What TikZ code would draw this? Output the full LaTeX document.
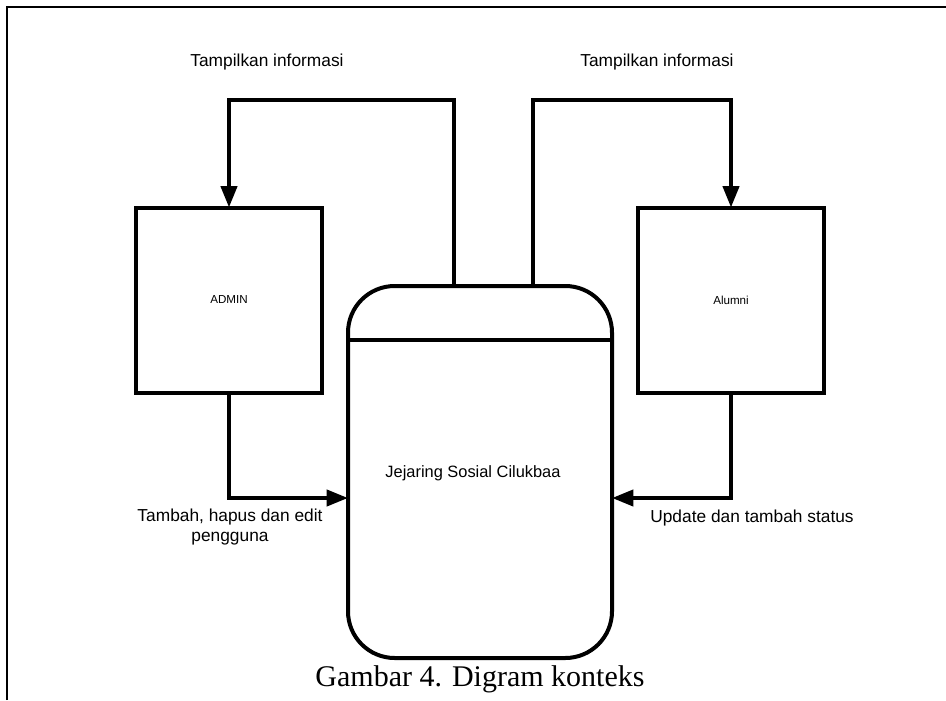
\documentclass[tikz,border=0pt]{standalone}
\usepackage{fontspec}
\setmainfont{Liberation Serif}
\newfontfamily\arial{Liberation Sans}
\usetikzlibrary{arrows.meta}

\begin{document}
\begin{tikzpicture}[x=0.75pt, y=-0.75pt,
    entity/.style={draw, line width=3pt, outer sep=0pt, minimum width=139.5pt, minimum height=138.75pt, font=\arial\fontsize{8.7}{10}\selectfont},
    proses/.style={draw, line width=3pt, outer sep=0pt, rounded corners=35pt, minimum width=198pt, minimum height=279pt},
    flow/.style={line width=3pt, -{Triangle[length=16pt, width=12pt]}},
    label/.style={font=\arial\fontsize{13}{15.6}\selectfont, align=center}]

    \useasboundingbox (0,0) rectangle (946,700);
    \draw[line width=1.5pt] (7,700) -- (7,7) -- (946,7);

    % entitas dan proses
    \node[entity] (admin) at (229, 300) {ADMIN};
    \node[entity] (alumni) at (731, 300) {Alumni};
    \node[proses] (proc) at (480, 472) {};
    \coordinate (divy) at (0, 340);
    \draw[line width=3pt] (proc.west |- divy) -- (proc.east |- divy);

    % titik bantu
    \coordinate (outL) at (454, 286);
    \coordinate (topL) at (454, 100);
    \coordinate (outR) at (533, 286);
    \coordinate (topR) at (533, 100);
    \coordinate (inL) at (348, 498);
    \coordinate (inR) at (612, 498);

    % aliran data
    \draw[flow] (outL) -- (topL) -| (admin.north);
    \draw[flow] (outR) -- (topR) -| (alumni.north);
    \draw[flow] (admin.south) |- (inL);
    \draw[flow] (alumni.south) |- (inR);

    \node[label] (lblA) at (267, 62) {Tampilkan informasi};
    \node[label] (lblB) at (657, 62) {Tampilkan informasi};
    \node[label] (lblC) at (230, 527) {Tambah, hapus dan edit\\pengguna};
    \node[label] (lblD) at (752, 518) {Update dan tambah status};
    \node[font=\arial\fontsize{12.3}{14}\selectfont] (nama) at (473, 473) {Jejaring Sosial Cilukbaa};

    \node[font=\fontsize{22.5}{27}\selectfont] (judul) at (480, 679) {Gambar 4. Digram konteks};

\end{tikzpicture}
\end{document}
